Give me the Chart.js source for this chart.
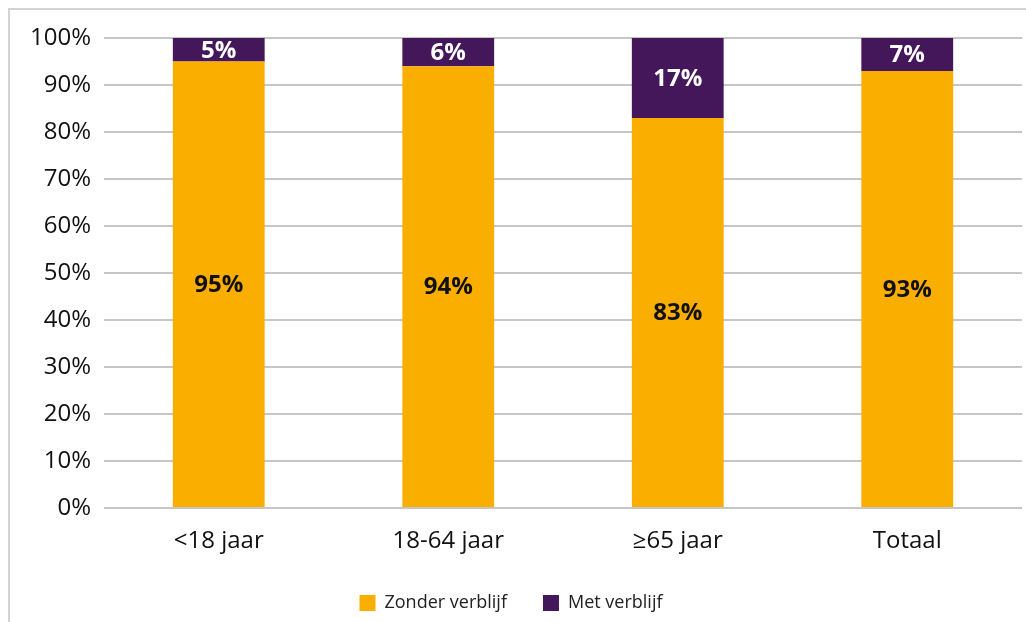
<!DOCTYPE html>
<html>
<head>
<meta charset="utf-8">
<script src="https://cdn.jsdelivr.net/npm/chart.js@4"></script>
<style>
  body { margin: 0; background: #fff; }
  #frame {
    position: absolute; left: 8px; top: 8px; width: 1030px; height: 630px;
    border-left: 2px solid #d4d4d4; border-top: 2px solid #d4d4d4;
  }
  #wrap { position: absolute; left: 0; top: 0; width: 1026px; height: 622px; }
</style>
</head>
<body>
<div id="frame"></div>
<div id="wrap"><canvas id="chart"></canvas></div>
<script>
const categories = ["<18 jaar", "18-64 jaar", "\u226565 jaar", "Totaal"];
const zonderVerblijf = [95, 94, 83, 93];
const metVerblijf = [5, 6, 17, 7];
const yTicks = [0, 10, 20, 30, 40, 50, 60, 70, 80, 90, 100];

const fontFamily = "'Open Sans', sans-serif";

// draws the percentage in the middle of every segment
const segmentLabels = {
  id: "segmentLabels",
  afterDatasetsDraw(chart) {
    const ctx = chart.ctx;
    ctx.save();
    ctx.font = "bold 24px " + fontFamily;
    ctx.textAlign = "center";
    ctx.textBaseline = "middle";
    chart.data.datasets.forEach((ds, i) => {
      const meta = chart.getDatasetMeta(i);
      meta.data.forEach((bar, j) => {
        const p = bar.getCenterPoint();
        ctx.fillStyle = ds.labelColor;
        ctx.fillText(ds.data[j] + "%", p.x, p.y + 1);
      });
    });
    ctx.restore();
  }
};

const config = {
  type: "bar",
  data: {
    labels: categories,
    datasets: [
      {
        label: "Zonder verblijf",
        data: zonderVerblijf,
        backgroundColor: "#f9ae00",
        labelColor: "#111111",
      },
      {
        label: "Met verblijf",
        data: metVerblijf,
        backgroundColor: "#44175b",
        labelColor: "#ffffff",
      },
    ],
  },
  options: {
    responsive: true,
    maintainAspectRatio: false,
    animation: false,
    datasets: { bar: { categoryPercentage: 1, barPercentage: 0.4 } },
    layout: { padding: { top: 38, right: 4, left: 0, bottom: 0 } },
    plugins: {
      tooltip: { enabled: false },
      legend: {
        position: "bottom",
        labels: {
          boxWidth: 16,
          boxHeight: 16,
          padding: 36,
          color: "#222",
          font: { family: fontFamily, size: 18 },
        },
      },
    },
    scales: {
      x: {
        stacked: true,
        grid: { display: false },
        border: { display: false },
        ticks: { color: "#111", padding: 11, font: { family: fontFamily, size: 24 } },
        afterFit(scale) { scale.height = 50; },
      },
      y: {
        stacked: true,
        min: 0,
        max: 100,
        afterBuildTicks(scale) { scale.ticks = yTicks.map(v => ({ value: v })); },
        grid: { color: "#c6c6c6", lineWidth: 2, drawTicks: false },
        border: { display: false },
        ticks: {
          color: "#111",
          padding: 13,
          font: { family: fontFamily, size: 24 },
          callback: v => v + "%",
        },
        afterFit(scale) { scale.width = 104; },
      },
    },
  },
  plugins: [segmentLabels],
};

new Chart(document.getElementById("chart"), config);
</script>
</body>
</html>
